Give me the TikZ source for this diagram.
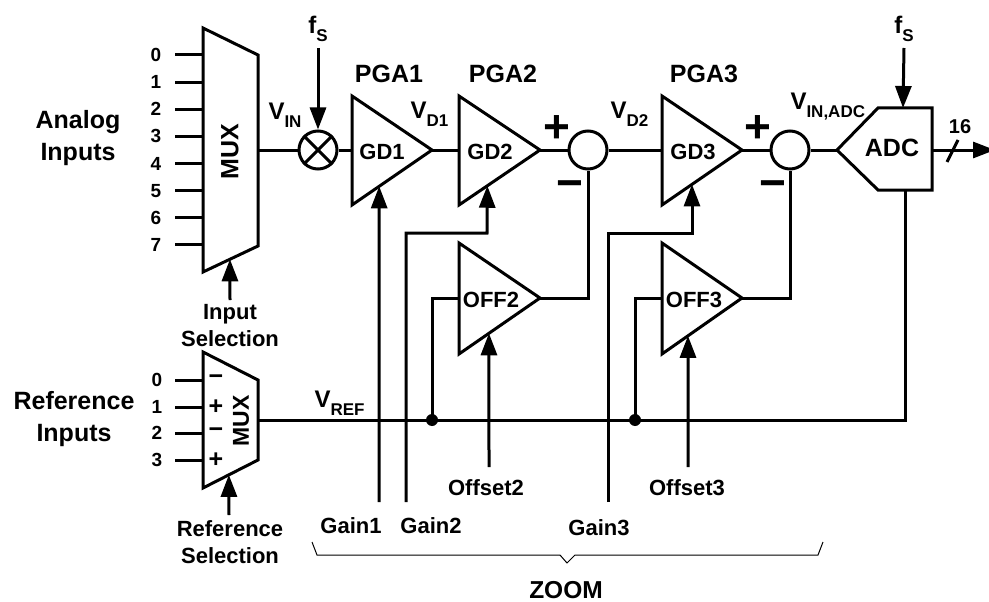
\documentclass[tikz,border=0pt]{standalone}
\usepackage{fontspec}
\setmainfont{Liberation Sans}
\usetikzlibrary{arrows.meta,calc}
\newcommand\fsz[2]{\fontsize{#1}{#2}\selectfont}
\newcommand\lowsub[1]{\raisebox{-8pt}{\fsz{17}{17}#1}}
\begin{document}
\begin{tikzpicture}[x=1pt,y=-1pt,line width=3pt,line join=miter,
  big/.style={font=\bfseries\fsz{25}{32}, align=center, inner sep=0pt},
  med/.style={font=\bfseries\fsz{22}{27}, align=center, inner sep=0pt},
  dig/.style={font=\bfseries\fsz{19}{19}, inner sep=0pt},
  sgn/.style={font=\bfseries\fsz{46}{46}, inner sep=0pt},
  vlab/.style={font=\bfseries\fsz{24}{24}, inner sep=0pt, anchor=base west},
  arr/.style={-{Triangle[length=22pt,width=16pt]}},
  sumnode/.style={circle,draw,minimum size=38pt,inner sep=0pt},
  dotnode/.style={circle,fill,minimum size=12pt,inner sep=0pt},
  thinline/.style={line width=1pt}]
\useasboundingbox (0,0) rectangle (989,602);

% ---------- analog MUX ----------
\coordinate (m1tl) at (203,28);
\coordinate (m1bl) at (203,272);
\coordinate (m1tr) at (258,55);
\coordinate (m1br) at (258,246);
\coordinate (m1o) at (258,150);
\draw (m1tl) -- (m1tr) -- (m1br) -- (m1bl) -- cycle;
\node[big, rotate=90] (mux1) at (230,152) {MUX};
\foreach \i in {0,...,7}{
  \coordinate (ain\i) at (175,{55+27.14*\i});
  \coordinate (ainE\i) at (203,{55+27.14*\i});
  \draw (ain\i) -- (ainE\i);
  \node[dig] (ad\i) at (156,{55+27.14*\i}) {\i};
}
\node[big] (analog) at (78,138) {Analog\\Inputs};
\coordinate (m1sel) at ($(m1bl)!0.49!(m1br)$);
\coordinate (m1selb) at (230,300);
\draw[arr] (m1selb) -- (m1sel);
\node[med] (insel) at (230,326) {Input\\Selection};

% ---------- reference MUX ----------
\coordinate (m2tl) at (203,352);
\coordinate (m2bl) at (203,488);
\coordinate (m2tr) at (258,380);
\coordinate (m2br) at (258,460);
\coordinate (m2o) at (258,420);
\draw (m2tl) -- (m2tr) -- (m2br) -- (m2bl) -- cycle;
\node[font=\bfseries\fsz{23}{23}, inner sep=0pt, rotate=90] (mux2) at (241,421) {MUX};
\foreach \i/\yy/\s in {0/380/−,1/407/+,2/433/−,3/460/+}{
  \coordinate (rin\i) at (175,\yy);
  \coordinate (rinE\i) at (203,\yy);
  \draw (rin\i) -- (rinE\i);
  \node[dig] (rd\i) at (157,\yy) {\i};
  \node[font=\bfseries\fsz{25}{25}, inner sep=0pt] (rs\i) at (216,\yy) {\s};
}
\node[big] (refin) at (74,419) {Reference\\Inputs};
\coordinate (m2sel) at ($(m2bl)!0.47!(m2br)$);
\coordinate (m2selb) at (229,515);
\draw[arr] (m2selb) -- (m2sel);
\node[med] (refsel) at (230,542) {Reference\\Selection};

% ---------- mixer ----------
\node[sumnode] (mix) at (318,150) {};
\draw (mix.north east) -- (mix.south west);
\draw (mix.north west) -- (mix.south east);
\draw (m1o) -- (mix.west);
\node[inner sep=0pt, anchor=south, font=\bfseries\fsz{24}{24}] (fs1) at (318,43) {f\lowsub{S}};
\draw[arr] ([yshift=-5pt]fs1.south) -- (mix.north);
\node[vlab] (vin) at (267,120) {V\lowsub{IN}};

% ---------- PGA1 ----------
\coordinate (p1t) at (352,96);
\coordinate (p1b) at (352,205);
\coordinate (p1o) at (432,150);
\coordinate (p1i) at (352,150);
\draw (p1t) -- (p1o) -- (p1b) -- cycle;
\node[med, anchor=base] (gd1) at (382,159) {GD1};
\node[big, anchor=base] (pga1) at (389,83) {PGA1};
\draw (mix.east) -- (p1i);
\node[vlab] (vd1) at (409,119) {V\lowsub{D1}};

% ---------- PGA2 ----------
\coordinate (p2t) at (459,96);
\coordinate (p2b) at (459,205);
\coordinate (p2o) at (540,150);
\coordinate (p2i) at (459,150);
\draw (p2t) -- (p2o) -- (p2b) -- cycle;
\node[med, anchor=base] (gd2) at (490,159) {GD2};
\node[big, anchor=base] (pga2) at (503,83) {PGA2};
\draw (p1o) -- (p2i);

% ---------- summer 1 ----------
\node[sumnode] (s1) at (588,150) {};
\draw (p2o) -- (s1.west);
\node[sgn] (s1p) at (557,129) {+};
\node[sgn, anchor=base] (s1m) at (570,198) {−};
\node[vlab] (vd2) at (609,119) {V\lowsub{D2}};

% ---------- PGA3 ----------
\coordinate (p3t) at (662,96);
\coordinate (p3b) at (662,205);
\coordinate (p3o) at (742,150);
\coordinate (p3i) at (662,150);
\draw (p3t) -- (p3o) -- (p3b) -- cycle;
\node[med, anchor=base] (gd3) at (693,159) {GD3};
\node[big, anchor=base] (pga3) at (704,83) {PGA3};
\draw (s1.east) -- (p3i);

% ---------- summer 2 ----------
\node[sumnode] (s2) at (790,150) {};
\draw (p3o) -- (s2.west);
\node[sgn] (s2p) at (758,129) {+};
\node[sgn, anchor=base] (s2m) at (773,198) {−};
\node[vlab] (vadc) at (789,110) {V\lowsub{IN,ADC}};

% ---------- ADC ----------
\coordinate (adcL) at (837,150);
\coordinate (adcTL) at (878,108);
\coordinate (adcTR) at (932,108);
\coordinate (adcBR) at (932,190);
\coordinate (adcBL) at (878,190);
\coordinate (adcR) at (932,150);
\coordinate (adcT) at (903,108);
\coordinate (adcB) at (905,190);
\draw (adcL) -- (adcTL) -- (adcTR) -- (adcBR) -- (adcBL) -- cycle;
\node[big, anchor=base] (adc) at (892,157) {ADC};
\draw (s2.east) -- (adcL);
\node[inner sep=0pt, anchor=south, font=\bfseries\fsz{24}{24}] (fs2) at (904,43) {f\lowsub{S}};
\draw[arr] ([yshift=-5pt]fs2.south) -- (adcT);
\coordinate (outp) at (995,150);
\draw[arr] (adcR) -- (outp);
\coordinate (sl1) at (947,162);
\coordinate (sl2) at (958,140);
\draw (sl1) -- (sl2);
\node[font=\bfseries\fsz{20}{20}, inner sep=0pt] (n16) at (960,127) {16};

% ---------- V_REF bus ----------
\draw (adcB) |- (m2o);
\node[vlab] (vref) at (313,407) {V\lowsub{REF}};
\node[dotnode] (d1) at (432,420) {};
\node[dotnode] (d2) at (635,420) {};

% ---------- OFF2 ----------
\coordinate (o2t) at (459,243);
\coordinate (o2b) at (459,354);
\coordinate (o2o) at (540,298);
\coordinate (o2i) at (459,298);
\draw (o2t) -- (o2o) -- (o2b) -- cycle;
\node[med, anchor=base] (off2) at (491,307) {OFF2};
\draw (d1.center) |- (o2i);
\draw (o2o) -| (s1.south);
\coordinate (o2g) at ($(o2b)!0.37!(o2o)$);
\coordinate (o2gb) at (489,467);
\draw[arr] (o2gb) -- (o2g);
\node[med, anchor=base] (offset2) at (486,495) {Offset2};

% ---------- OFF3 ----------
\coordinate (o3t) at (662,243);
\coordinate (o3b) at (662,354);
\coordinate (o3o) at (742,298);
\coordinate (o3i) at (662,298);
\draw (o3t) -- (o3o) -- (o3b) -- cycle;
\node[med, anchor=base] (off3) at (694,307) {OFF3};
\draw (d2.center) |- (o3i);
\draw (o3o) -| (s2.south);
\coordinate (o3g) at ($(o3b)!0.325!(o3o)$);
\coordinate (o3gb) at (688,467);
\draw[arr] (o3gb) -- (o3g);
\node[med, anchor=base] (offset3) at (687,495) {Offset3};

% ---------- gains ----------
\coordinate (p1g) at ($(p1b)!0.34!(p1o)$);
\coordinate (g1b) at (379,502);
\draw[arr] (g1b) -- (p1g);
\node[med, anchor=base] (gain1) at (351,533) {Gain1};

\coordinate (p2g) at ($(p2b)!0.35!(p2o)$);
\coordinate (g2b) at (406,502);
\coordinate (g2c) at (406,233);
\coordinate (g2d) at (487,233);
\draw[arr] (g2b) -- (g2c) -- (g2d) -- (p2g);
\node[med, anchor=base] (gain2) at (431,533) {Gain2};

\coordinate (p3g) at ($(p3b)!0.375!(p3o)$);
\coordinate (g3b) at (608,502);
\coordinate (g3c) at (608,233);
\coordinate (g3d) at (692,233);
\draw[arr] (g3b) -- (g3c) -- (g3d) -- (p3g);
\node[med, anchor=base] (gain3) at (599,535) {Gain3};

% ---------- ZOOM brace ----------
\coordinate (br1) at (312,542);
\coordinate (br2) at (317,555);
\coordinate (br3) at (560,555);
\coordinate (br4) at (567,563);
\coordinate (br5) at (575,555);
\coordinate (br6) at (818,555);
\coordinate (br7) at (823,542);
\draw[thinline] (br1) -- (br2) -- (br3) -- (br4) -- (br5) -- (br6) -- (br7);
\node[font=\bfseries\fsz{24.5}{24.5}, inner sep=0pt, anchor=base] (zoom) at (566,598) {ZOOM};
\end{tikzpicture}
\end{document}
